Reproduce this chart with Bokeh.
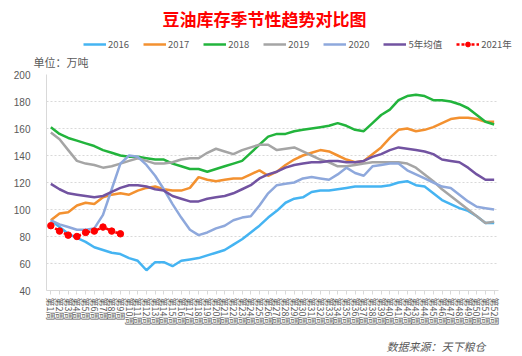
import math
from bokeh.plotting import figure
from bokeh.layouts import column
from bokeh.models import Legend, LegendItem, Label, FactorRange, Range1d, SingleIntervalTicker
from bokeh.embed import file_html
from bokeh.resources import INLINE

weeks = [f"第{i}周" for i in range(1, 53)]

s2016 = [92, 87, 82, 79, 76, 72, 70, 68, 67, 64, 62, 55, 61, 61, 58, 62, 63, 64, 66, 68,
         70, 74, 78, 83, 88, 94, 99, 105, 108, 109, 113, 114, 114, 115, 116, 117, 117, 117, 117, 118,
         120, 121, 118, 117, 112, 107, 104, 101, 99, 95, 90, 90]
s2017 = [92, 97, 98, 103, 105, 104, 109, 111, 112, 111, 114, 116, 117, 115, 114, 114, 116, 124, 122, 121,
         122, 123, 123, 126, 129, 125, 128, 133, 137, 140, 142, 144, 143, 140, 137, 135, 136, 141, 146, 153,
         159, 160, 158, 159, 161, 164, 167, 168, 168, 167, 165, 165]
s2018 = [161, 156, 153, 151, 149, 147, 144, 142, 140, 139, 139, 138, 137, 137, 134, 132, 130, 130, 128, 130,
         132, 134, 136, 142, 148, 154, 156, 156, 158, 159, 160, 161, 162, 164, 162, 159, 158, 164, 170, 174,
         181, 184, 185, 184, 181, 181, 180, 178, 175, 170, 165, 163]
s2019 = [157, 152, 144, 136, 134, 133, 131, 132, 134, 136, 138, 136, 134, 134, 135, 137, 138, 138, 142, 145,
         143, 141, 144, 146, 148, 148, 144, 145, 146, 143, 140, 137, 135, 132, 132, 133, 134, 135, 135, 135,
         135, 134, 131, 126, 121, 115, 110, 105, 100, 95, 90, 91]
s2020 = [92, 89, 87, 85, 85, 86, 96, 115, 134, 140, 139, 133, 125, 115, 104, 94, 85, 81, 83, 86,
         88, 92, 94, 95, 103, 112, 118, 119, 120, 123, 124, 123, 122, 126, 131, 127, 125, 132, 133, 134,
         134, 129, 126, 123, 120, 117, 116, 111, 106, 102, 101, 100]
avg5 = [119, 115, 112, 111, 110, 109, 110, 113, 116, 118, 118, 117, 115, 114, 110, 108, 106, 106, 108, 109,
        110, 112, 115, 118, 123, 126, 128, 131, 133, 134, 135, 135, 136, 136, 135, 135, 136, 139, 141, 144,
        146, 145, 144, 143, 141, 137, 136, 135, 131, 126, 122, 122]
s2021 = [88, 84, 81, 80, 83, 84, 87, 84, 82]

series = [
    ("2016", s2016, "#45B4F2"),
    ("2017", s2017, "#F39130"),
    ("2018", s2018, "#22B43C"),
    ("2019", s2019, "#A5A5A5"),
    ("2020", s2020, "#8EA8DC"),
    ("5年均值", avg5, "#7253A1"),
]
RED = "#FF0000"

TITLE = "豆油库存季节性趋势对比图"
UNIT = "单位：万吨"
SOURCE = "数据来源：天下粮仓"

CJK = "Noto Sans CJK SC"
GRAY = "#595959"
W = 522


def bare(height):
    f = figure(width=W, height=height, x_range=Range1d(0, W), y_range=Range1d(height, 0),
               x_axis_type=None, y_axis_type=None, output_backend="svg", toolbar_location=None,
               min_border=0)
    f.outline_line_color = None
    f.grid.visible = False
    if "frame_align" in f.properties():
        f.frame_align = False
    return f


# ---------------- header: title, legend, unit ----------------
header = bare(68)
header.add_layout(Label(x=264, y=18, text=TITLE, text_align="center", text_baseline="middle",
                        text_font=CJK, text_font_size="17px", text_color=RED, text_font_style="bold"))
header.add_layout(Label(x=33, y=61, text=UNIT, text_align="left", text_baseline="middle",
                        text_font=CJK, text_font_size="11px", text_color=GRAY))

# legend swatches: renderers whose single point lies off-screen (legend only)
off = dict(x=[-50], y=[-50])
items = []
for name, vals, col in series:
    r = header.line(off["x"], off["y"], line_color=col, line_width=2.5)
    items.append(LegendItem(label=name, renderers=[r]))
hl = header.line(off["x"], off["y"], line_color=RED, line_width=2.5, line_dash="3 2")
hm = header.scatter(off["x"], off["y"], marker="circle", size=6, fill_color=RED, line_color=RED)
items.append(LegendItem(label="2021年", renderers=[hl, hm]))

legend = Legend(items=items, orientation="horizontal", location=(83, 17),
                label_text_font=CJK, label_text_font_size="9.5px", label_text_color=GRAY,
                glyph_width=23, glyph_height=12, label_height=12, label_standoff=2, spacing=14,
                padding=2, margin=0, border_line_color=None, background_fill_alpha=0)
header.add_layout(legend, "center")

# ---------------- main chart ----------------
p = figure(width=W, height=266, x_range=FactorRange(*weeks), y_range=Range1d(40, 200),
           output_backend="svg", toolbar_location=None,
           min_border_left=46, min_border_right=24, min_border_top=6, min_border_bottom=44)
p.outline_line_color = None

for name, vals, col in series:
    p.line(weeks, vals, line_color=col, line_width=2.5)

w21 = weeks[:len(s2021)]
p.line(w21, s2021, line_color=RED, line_width=2.5, line_dash="3 2")
p.scatter(w21, s2021, marker="circle", size=6.5, fill_color=RED, line_color=RED)

p.yaxis.ticker = SingleIntervalTicker(interval=20)
p.yaxis.axis_line_color = "#D9D9D9"
p.yaxis.major_tick_line_color = None
p.yaxis.minor_tick_line_color = None
p.yaxis.major_label_text_font = "Liberation Sans"
p.yaxis.major_label_text_font_size = "10px"
p.yaxis.major_label_text_color = GRAY
p.yaxis.major_label_standoff = 10

p.xaxis.axis_line_color = "#D9D9D9"
p.xaxis.major_tick_line_color = "#D9D9D9"
p.xaxis.major_tick_out = 4
p.xaxis.major_tick_in = 0
p.xaxis.major_label_orientation = -math.pi / 2
p.xaxis.major_label_text_font = CJK
p.xaxis.major_label_text_font_size = "9px"
p.xaxis.major_label_text_color = GRAY
p.xaxis.major_label_standoff = 3

p.xgrid.grid_line_color = None
p.ygrid.grid_line_color = "#D9D9D9"
p.ygrid.grid_line_dash = "2 2"

# ---------------- footer: source ----------------
footer = bare(22)
footer.add_layout(Label(x=485, y=11, text=SOURCE, text_align="right", text_baseline="middle",
                        text_font=CJK, text_font_size="11px", text_color=GRAY,
                        text_font_style="italic"))

layout = column(header, p, footer, spacing=0)
open("out.html", "w").write(file_html(layout, INLINE))
